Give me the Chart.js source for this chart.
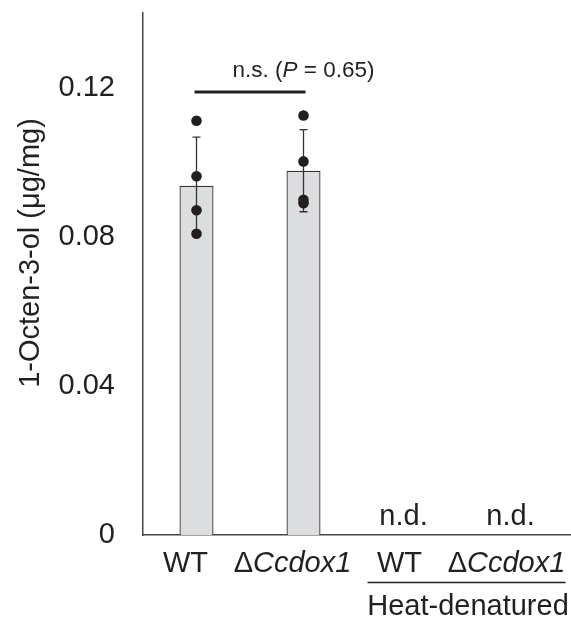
<!DOCTYPE html>
<html>
<head>
<meta charset="utf-8">
<script src="https://cdn.jsdelivr.net/npm/chart.js@4"></script>
<style>
  html, body { margin: 0; padding: 0; background: #fff; }
  #wrap { width: 571px; height: 619px; }
</style>
</head>
<body>
<div id="wrap"><canvas id="octenol"></canvas></div>
<script>
const categories = ['WT', 'ΔCcdox1', 'WT', 'ΔCcdox1']
const means = [0.0937, 0.0977, 0, 0]
const sds = [0.0130, 0.0110, 0, 0]
const replicates = [
  [0.1111, 0.0962, 0.0871, 0.0808],
  [0.1125, 0.1002, 0.0899, 0.0890],
  [],
  []
]
const detected = [true, true, false, false]
const yTicks = [0, 0.04, 0.08, 0.12]
const yTickLabels = ['0', '0.04', '0.08', '0.12']
const yTitle = '1-Octen-3-ol (μg/mg)'
const sigText = ['n.s. (', 'P', ' = 0.65)']
const groupText = 'Heat-denatured'

const ink = '#231f20'
const font = '"Liberation Sans", Arial, Helvetica, sans-serif'
const big = 29

// x is the category index (data is passed unparsed)
const points = []
replicates.forEach((vals, i) => {
  vals.forEach(v => points.push({ x: i, y: v }))
})

// draws pieces of text [text, italic] centred on x
function drawMixed(ctx, parts, x, y, size) {
  let total = 0
  const widths = parts.map(p => {
    ctx.font = (p[1] ? 'italic ' : '') + size + 'px ' + font
    const w = ctx.measureText(p[0]).width
    total += w
    return w
  })
  let cx = x - total / 2
  parts.forEach((p, i) => {
    ctx.font = (p[1] ? 'italic ' : '') + size + 'px ' + font
    ctx.fillText(p[0], cx, y)
    cx += widths[i]
  })
}

const errorBars = {
  id: 'errorBars',
  afterDatasetDraw(chart, args) {
    if (args.index !== 0) return
    const ctx = chart.ctx
    const x = chart.scales.x
    const y = chart.scales.y
    ctx.save()
    ctx.strokeStyle = '#333'
    ctx.lineWidth = 1.3
    means.forEach((m, i) => {
      if (!detected[i]) return
      const px = x.getPixelForValue(i)
      const top = y.getPixelForValue(m + sds[i])
      const bot = y.getPixelForValue(m - sds[i])
      ctx.beginPath()
      ctx.moveTo(px, top); ctx.lineTo(px, bot)
      ctx.moveTo(px - 4, top); ctx.lineTo(px + 4, top)
      ctx.moveTo(px - 4, bot); ctx.lineTo(px + 4, bot)
      ctx.stroke()
    })
    ctx.restore()
  }
}

const annotations = {
  id: 'annotations',
  afterDraw(chart) {
    const ctx = chart.ctx
    const x = chart.scales.x
    const y = chart.scales.y
    ctx.save()
    ctx.fillStyle = ink
    ctx.textBaseline = 'alphabetic'
    ctx.textAlign = 'left'

    // category labels
    categories.forEach((c, i) => {
      const px = x.getPixelForValue(i) - 11
      if (c.startsWith('Δ')) {
        drawMixed(ctx, [['Δ', false], [c.slice(1), true]], px, 572, big)
      } else {
        drawMixed(ctx, [[c, false]], px, 572, big)
      }
      if (!detected[i]) {
        drawMixed(ctx, [['n.d.', false]], x.getPixelForValue(i) - 7, 525, big)
      }
    })

    // heat-denatured group
    const g0 = x.getPixelForValue(2)
    const g1 = x.getPixelForValue(3)
    ctx.strokeStyle = ink
    ctx.lineWidth = 1.5
    ctx.beginPath()
    ctx.moveTo(g0 - 43, 582.5)
    ctx.lineTo(g1 + 48, 582.5)
    ctx.stroke()
    drawMixed(ctx, [[groupText, false]], (g0 + g1) / 2 + 4, 615, big)

    // significance bar
    const sy = y.getPixelForValue(0.1188)
    ctx.lineWidth = 3
    ctx.beginPath()
    ctx.moveTo(x.getPixelForValue(0) - 2, sy)
    ctx.lineTo(x.getPixelForValue(1) + 2, sy)
    ctx.stroke()
    drawMixed(ctx, [[sigText[0], false], [sigText[1], true], [sigText[2], false]],
      x.getPixelForValue(1), 77, 22.5)

    // y axis title
    ctx.translate(31, 253)
    ctx.rotate(-Math.PI / 2)
    ctx.textAlign = 'center'
    ctx.textBaseline = 'middle'
    ctx.font = big + 'px ' + font
    ctx.fillText(yTitle, 0, 0)
    ctx.restore()
  }
}

new Chart('octenol', {
  type: 'bar',
  data: {
    labels: categories,
    datasets: [{
      type: 'bar',
      data: means,
      backgroundColor: '#dcdddf',
      borderColor: '#333',
      borderWidth: 1.3,
      barPercentage: 0.318,
      categoryPercentage: 1,
      order: 2
    }, {
      type: 'scatter',
      data: points,
      parsing: false,
      backgroundColor: ink,
      borderColor: ink,
      pointRadius: 5.3,
      borderWidth: 0,
      clip: false,
      order: 1
    }]
  },
  options: {
    responsive: true,
    maintainAspectRatio: false,
    animation: false,
    layout: { autoPadding: false, padding: { top: 13, right: 0, left: 0, bottom: 0 } },
    plugins: {
      legend: { display: false },
      tooltip: { enabled: false }
    },
    scales: {
      x: {
        type: 'category',
        offset: true,
        grid: { display: false, drawTicks: false },
        border: { display: true, color: '#444', width: 1.5 },
        ticks: { display: false },
        afterFit: s => {
          s.height = 84
          s.paddingLeft = 0
          s.paddingRight = 0
        }
      },
      y: {
        min: 0,
        max: 0.14,
        grid: { display: false, drawTicks: false },
        border: { display: true, color: '#444', width: 1.5 },
        afterBuildTicks: s => { s.ticks = yTicks.map(v => ({ value: v })) },
        ticks: {
          padding: 28,
          color: ink,
          font: { family: font, size: big },
          callback: (v, i) => yTickLabels[i]
        },
        afterFit: s => {
          s.width = 143
          s.paddingTop = 0
          s.paddingBottom = 0
        }
      }
    }
  },
  plugins: [errorBars, annotations]
})
</script>
</body>
</html>
